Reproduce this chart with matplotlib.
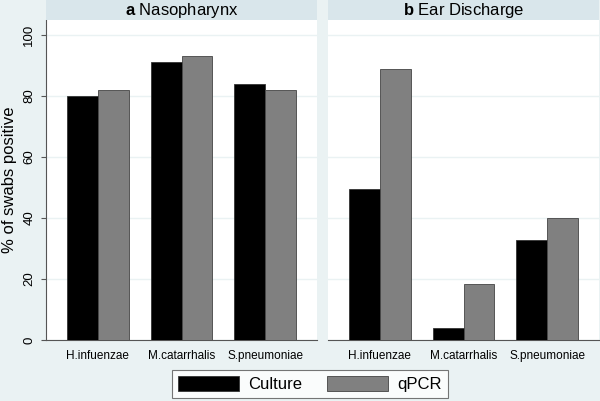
import matplotlib
matplotlib.use("Agg")
import matplotlib.pyplot as plt
import numpy as np

plt.rcParams['font.family'] = ['Liberation Sans', 'DejaVu Sans']
plt.rcParams['mathtext.fontset'] = 'custom'
plt.rcParams['mathtext.bf'] = 'Liberation Sans:bold'
plt.rcParams['mathtext.rm'] = 'Liberation Sans'

# donnees
species = ['H.infuenzae', 'M.catarrhalis', 'S.pneumoniae']
panels = ['a', 'b']
panel_titles = ['Nasopharynx', 'Ear Discharge']
culture = [[80, 91, 84], [49.4, 3.8, 32.8]]
qpcr = [[82, 93, 82], [89, 18.4, 40]]
yticks = [0, 20, 40, 60, 80, 100]

bg = '#eaf2f3'
strip = '#d9e6eb'

fig = plt.figure(figsize=(6, 4.01), dpi=100, facecolor=bg)
x = np.arange(len(species))
w = 0.37
lefts = [46 / 600, 328 / 600]
pw = 271 / 600
bottom = 1 - 340 / 401
ph = 320 / 401

for i in range(2):
    ax = fig.add_axes([lefts[i], bottom, pw, ph])
    ax.set_facecolor('white')
    ax.bar(x - w / 2, culture[i], w, color='black', edgecolor='#333333', linewidth=0.6, zorder=3, label='Culture')
    ax.bar(x + w / 2, qpcr[i], w, color='#808080', edgecolor='#444444', linewidth=0.6, zorder=3, label='qPCR')
    ax.set_xlim(-0.62, 2.62)
    ax.set_ylim(0, 104.9)
    ax.set_yticks(yticks)
    ax.grid(axis='y', color=bg, linewidth=1, zorder=0)
    ax.set_xticks(x)
    ax.set_xticklabels(species, fontsize=8.5)
    ax.tick_params(axis='x', length=0, pad=7)
    for s in ['top', 'right']:
        ax.spines[s].set_visible(False)
    ax.spines['bottom'].set_color('#555555')
    ax.spines['bottom'].set_linewidth(0.8)
    if i == 0:
        ax.spines['left'].set_color('#555555')
        ax.spines['left'].set_linewidth(0.8)
        ax.tick_params(axis='y', length=3.6, color='#555555', labelsize=9.5, pad=4)
        for lab in ax.get_yticklabels():
            lab.set_rotation(90)
            lab.set_va('center')
        ax.set_ylabel('% of swabs positive', fontsize=12)
        ax.yaxis.set_label_coords(-29 / 271, 0.5)
    else:
        ax.spines['left'].set_visible(False)
        ax.tick_params(axis='y', length=0, labelleft=False)
    # bandeau du titre
    sax = fig.add_axes([lefts[i], 1 - 20 / 401, pw, 20 / 401])
    sax.set_facecolor(strip)
    sax.set_xticks([])
    sax.set_yticks([])
    for s in sax.spines.values():
        s.set_visible(False)
    sax.text(0.5, 0.45, r'$\bf{' + panels[i] + '}$ ' + panel_titles[i],
             ha='center', va='center', fontsize=12, transform=sax.transAxes)
    if i == 0:
        handles, labels = ax.get_legend_handles_labels()

leg = fig.legend(handles, labels, loc='center', bbox_to_anchor=(310 / 600, 1 - 384 / 401),
                 ncol=2, fontsize=12, frameon=True, fancybox=False, edgecolor='#555555',
                 handlelength=3.65, handleheight=1.0, handletextpad=0.55, columnspacing=1.5,
                 borderpad=0.35)
leg.get_frame().set_linewidth(0.8)

fig.savefig('out.png', dpi=100, facecolor=bg)
